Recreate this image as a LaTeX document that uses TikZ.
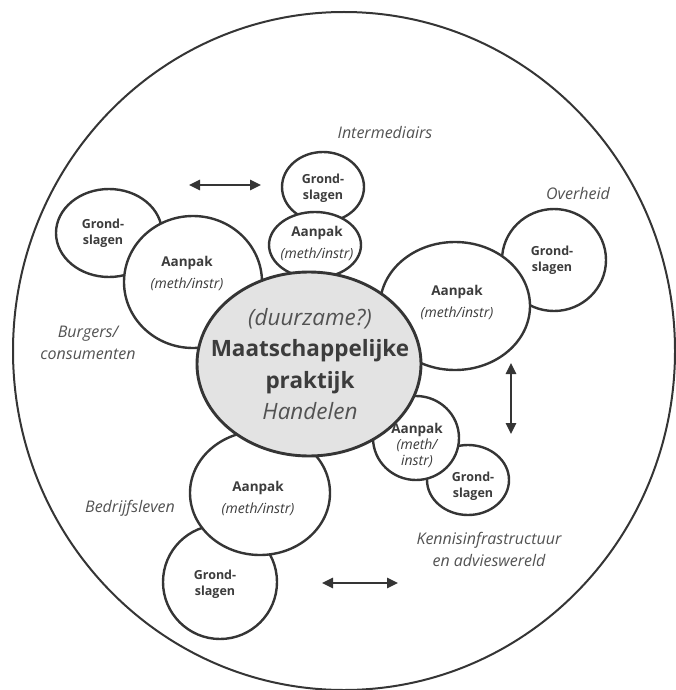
\documentclass[tikz,border=0pt]{standalone}
\usepackage{fontspec}
\setmainfont{Open Sans}
\usetikzlibrary{shapes.geometric,arrows.meta}

\definecolor{linec}{HTML}{353535}
\definecolor{boldc}{HTML}{3C3C3C}
\definecolor{softc}{HTML}{525252}
\definecolor{corefill}{HTML}{E3E3E3}

\tikzset{
  blob/.style={ellipse, draw=linec, line width=2.4pt, fill=white, inner sep=0pt},
  core/.style={ellipse, draw=linec, line width=2.9pt, fill=corefill, inner sep=0pt},
  rim/.style={ellipse, draw=linec, line width=2pt, inner sep=0pt},
  basetxt/.style={font=\fontsize{12.5}{16}\selectfont\bfseries, text=boldc, align=center, inner sep=0pt},
  aanpaktxt/.style={font=\fontsize{13.5}{22}\selectfont\bfseries, text=boldc, align=center, inner sep=0pt},
  aanpaktight/.style={font=\fontsize{13.5}{16}\selectfont\bfseries, text=boldc, align=center, inner sep=0pt},
  actor/.style={font=\fontsize{16}{22}\selectfont\itshape, text=softc, align=center, inner sep=0pt},
  biarrow/.style={line width=2.5pt, draw=linec,
    arrows={Triangle[length=11pt,width=10pt]-Triangle[length=11pt,width=10pt]}}
}
\newcommand{\mi}[1]{{\mdseries\itshape\fontsize{14}{22}\selectfont #1}}

\begin{document}
\begin{tikzpicture}[x=1pt,y=-1pt]
\useasboundingbox (0,0) rectangle (676,690);

% outer boundary
\node[rim, minimum width=662pt, minimum height=678pt] (world) at (344,351) {};

% foundations (drawn first, partly covered by the approaches)
\node[blob, minimum width=82pt,  minimum height=70pt]  (intG) at (323,187) {};
\node[blob, minimum width=106pt, minimum height=88pt]  (burG) at (109,233) {};
\node[blob, minimum width=104pt, minimum height=102pt] (ovhG) at (554,260) {};
\node[blob, minimum width=82pt,  minimum height=70pt]  (kenG) at (468,480) {};
\node[blob, minimum width=114pt, minimum height=114pt] (bedG) at (220,582) {};

% approaches
\node[blob, minimum width=92pt,  minimum height=66pt]  (intA) at (315,245) {};
\node[blob, minimum width=138pt, minimum height=132pt] (burA) at (193,282) {};
\node[blob, minimum width=150pt, minimum height=128pt] (ovhA) at (455,306) {};
\node[blob, minimum width=86pt,  minimum height=84pt]  (kenA) at (416,438) {};
\node[blob, minimum width=140pt, minimum height=124pt] (bedA) at (260,493) {};

% social practice in the middle
\node[core, minimum width=224pt, minimum height=184pt] (prak) at (309,364) {};

% texts inside the shapes
\node[font=\fontsize{22.5}{31.5}\selectfont, text=boldc, align=center, inner sep=0pt] (prakT) at (310,364)
  {{\itshape\color{softc}(duurzame?)}\\ \textbf{Maatschappelijke}\\ \textbf{praktijk}\\ {\itshape\color{softc}Handelen}};

\node[basetxt] (intGT) at (323,188) {Grond-\\slagen};
\node[basetxt] (burGT) at (103,233) {Grond-\\slagen};
\node[basetxt] (ovhGT) at (552,260) {Grond-\\slagen};
\node[basetxt] (kenGT) at (473,486) {Grond-\\slagen};
\node[basetxt] (bedGT) at (215,584) {Grond-\\slagen};

\node[aanpaktxt] (intAT) at (317,243) {Aanpak\\ \mi{(meth/instr)}};
\node[aanpaktxt] (burAT) at (187,273) {Aanpak\\ \mi{(meth/instr)}};
\node[aanpaktxt] (ovhAT) at (457,302) {Aanpak\\ \mi{(meth/instr)}};
\node[aanpaktxt] (bedAT) at (258,498) {Aanpak\\ \mi{(meth/instr)}};
\node[aanpaktight] (kenAT) at (417,445) {Aanpak\\ {\mdseries\itshape\fontsize{14}{16}\selectfont (meth/}\\ {\mdseries\itshape\fontsize{14}{16}\selectfont instr)}};

% actor labels
\node[actor] (lblInt) at (385,132) {Intermediairs};
\node[actor] (lblOvh) at (578,193) {Overheid};
\node[actor] (lblBur) at (88,343) {Burgers/\\consumenten};
\node[actor] (lblBed) at (130,508) {Bedrijfsleven};
\node[actor] (lblKen) at (489,549) {Kennisinfrastructuur\\en advieswereld};

% interaction arrows
\coordinate (a1) at (189,185);
\coordinate (a2) at (261,185);
\coordinate (b1) at (511,363);
\coordinate (b2) at (511,434);
\coordinate (c1) at (322,583);
\coordinate (c2) at (398,583);
\draw[biarrow] (a1) -- (a2);
\draw[biarrow] (b1) -- (b2);
\draw[biarrow] (c1) -- (c2);
\end{tikzpicture}
\end{document}
